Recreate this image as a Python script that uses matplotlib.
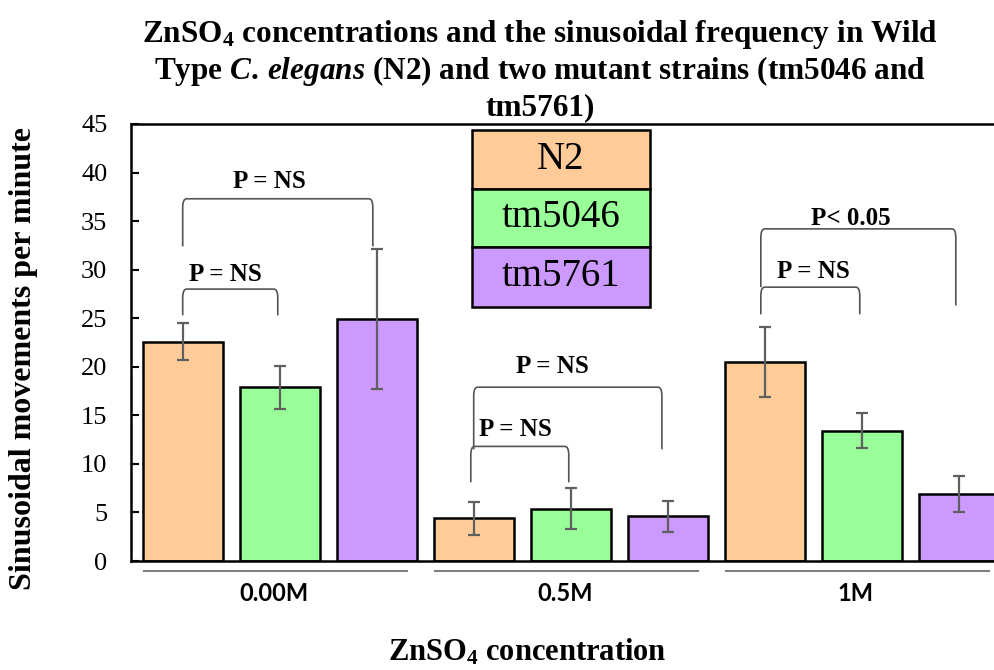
import numpy as np
import matplotlib.pyplot as plt
from matplotlib.path import Path
from matplotlib.patches import PathPatch, Rectangle

plt.rcParams['font.family'] = 'Liberation Serif'
plt.rcParams['mathtext.fontset'] = 'custom'
plt.rcParams['mathtext.rm'] = 'Liberation Serif:bold'
plt.rcParams['mathtext.bf'] = 'Liberation Serif:bold'
plt.rcParams['mathtext.it'] = 'Liberation Serif:italic:bold'

# Data
concentrations = ['0.00M', '0.5M', '1M']
strains = ['N2', 'tm5046', 'tm5761']
means = {
    'N2':     [22.6, 4.4, 20.5],
    'tm5046': [17.9, 5.4, 13.4],
    'tm5761': [24.9, 4.6, 6.9],
}
errors = {
    'N2':     [1.9, 1.7, 3.6],
    'tm5046': [2.2, 2.1, 1.8],
    'tm5761': [7.2, 1.6, 1.9],
}
colors = {'N2': '#FFCC99', 'tm5046': '#99FF99', 'tm5761': '#CC99FF'}

# significance brackets: (x left, x right, left foot, right foot, top, label, label x, label y)
brackets = [
    (0.00, 0.98, 25.3, 25.3, 28.0, 'P = NS', 0.44, 29.5),
    (0.00, 1.96, 32.4, 32.4, 37.3, 'P = NS', 0.89, 39.1),
    (2.97, 3.98, 8.1, 8.1, 11.8, 'P = NS', 3.43, 13.5),
    (3.00, 4.94, 11.5, 11.5, 17.9, 'P = NS', 3.81, 20.0),
    (5.96, 6.98, 25.4, 25.4, 28.2, 'P = NS', 6.50, 29.8),
    (5.96, 7.97, 28.2, 26.3, 34.2, 'P< 0.05', 6.89, 35.3),
]

W, H = 995, 670
fig = plt.figure(figsize=(W / 100, H / 100), dpi=100)
ax = fig.add_axes([131 / W, (H - 561) / H, (995 - 131) / W, (561 - 124) / H])

n_strain = len(strains)
for j, s in enumerate(strains):
    x = np.arange(len(concentrations)) * n_strain + j
    ax.bar(x, means[s], width=0.825, color=colors[s], edgecolor='black',
           linewidth=1.8, zorder=2)
    ax.errorbar(x, means[s], yerr=errors[s], fmt='none', ecolor='#5f5f5f',
                elinewidth=1.6, capsize=4.5, capthick=1.6, zorder=3)

ax.set_xlim(-0.533, 8.374)
ax.set_ylim(0, 45)
ax.set_yticks(np.arange(0, 46, 5))
ax.tick_params(axis='y', direction='in', length=6, width=1.5, pad=17,
               labelsize=19)
centers = np.arange(len(concentrations)) * n_strain + 1
ax.set_xticks(centers - 0.06)
ax.set_xticklabels(concentrations, fontfamily='Lato', fontweight='bold',
                   fontsize=17)
ax.tick_params(axis='x', length=0, pad=15)
for side in ['left', 'top', 'bottom']:
    ax.spines[side].set_linewidth(1.8)
ax.spines['right'].set_visible(False)

# grey underline below each group
for c in centers:
    ax.plot([c - 1.40, c + 1.31], [-0.023, -0.023], color='#808080', lw=1.5,
            transform=ax.get_xaxis_transform(), clip_on=False)

# brackets with rounded corners
rx, ry = 0.04, 0.9
for x0, x1, yl, yr, yt, label, lx, ly in brackets:
    verts = [(x0, yl), (x0, yt - ry), (x0, yt), (x0 + rx, yt),
             (x1 - rx, yt), (x1, yt), (x1, yt - ry), (x1, yr)]
    codes = [Path.MOVETO, Path.LINETO, Path.CURVE3, Path.CURVE3,
             Path.LINETO, Path.CURVE3, Path.CURVE3, Path.LINETO]
    ax.add_patch(PathPatch(Path(verts, codes), fill=False, edgecolor='#555555',
                           lw=1.2, zorder=4))
    ax.text(lx, ly, label, ha='center', va='center', fontsize=18,
            fontweight='bold', zorder=5)

# legend as stacked colour cells
lx0, lx1 = 472, 650
rows = [130, 189, 247, 307]
for i, s in enumerate(strains):
    y0, y1 = rows[i], rows[i + 1]
    fig.patches.append(Rectangle((lx0 / W, 1 - y1 / H), (lx1 - lx0) / W,
                                 (y1 - y0) / H, transform=fig.transFigure,
                                 facecolor=colors[s], edgecolor='black',
                                 linewidth=1.8, zorder=6))
    fig.text((lx0 + lx1) / 2 / W, 1 - (y0 + y1) / 2 / H, s, ha='center',
             va='center', fontsize=28, zorder=7)

# title lines
title_lines = [
    r'ZnSO$_4$ concentrations and the sinusoidal frequency in Wild',
    r'Type $\mathit{C.}\,\mathit{elegans}$ (N2) and two mutant strains (tm5046 and',
    'tm5761)',
]
for line, base in zip(title_lines, [42, 79, 115]):
    fig.text(540 / W, 1 - base / H, line, ha='center', va='baseline',
             fontsize=22.5, fontweight='bold')

fig.text(24 / W, 1 - 359 / H, 'Sinusoidal movements per minute', rotation=90,
         ha='center', va='center', fontsize=23, fontweight='bold')
fig.text(527 / W, 1 - 652 / H, r'ZnSO$_4$ concentration', ha='center',
         va='center', fontsize=22, fontweight='bold')

fig.savefig('out.png', dpi=100)
